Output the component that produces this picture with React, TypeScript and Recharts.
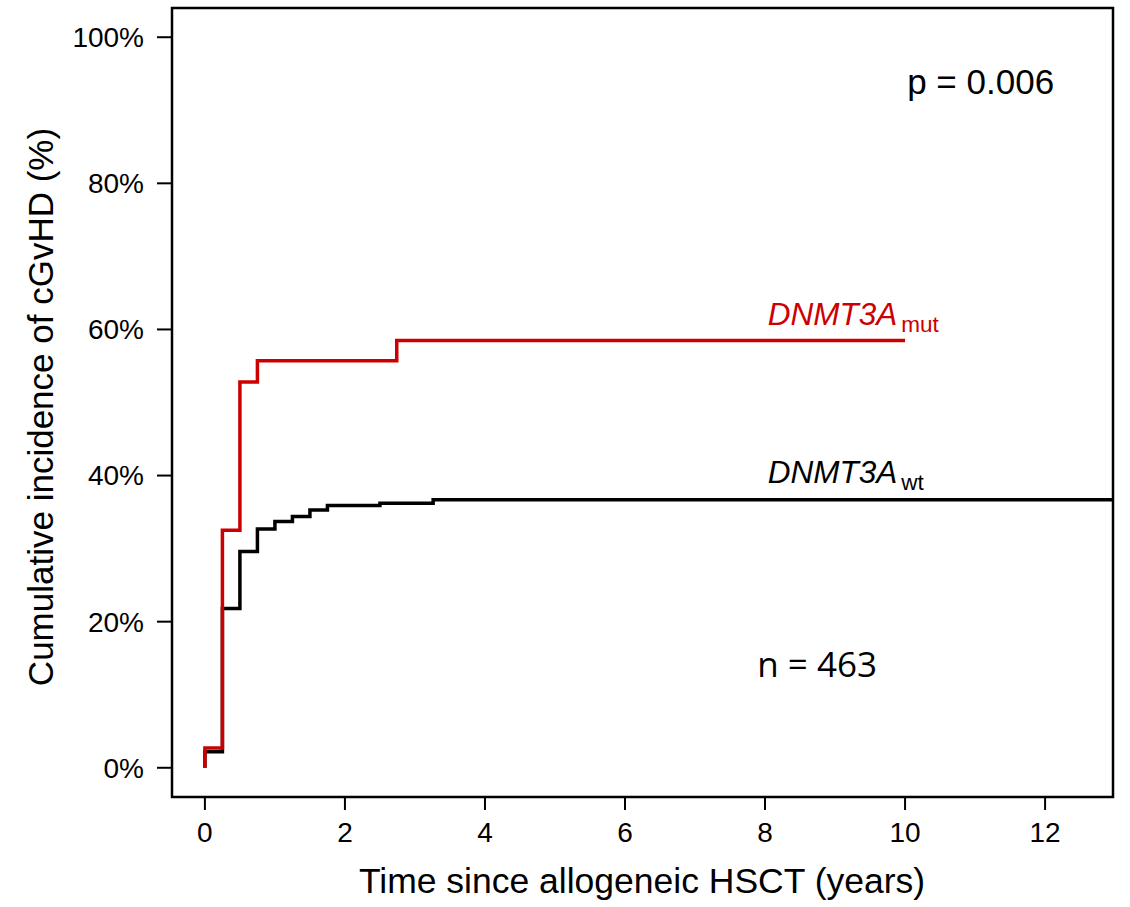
import React from 'react';
import { LineChart, Line, XAxis, YAxis, ReferenceArea, ReferenceDot } from 'recharts';

// step curves (years, cumulative incidence %)
const wtTimes = [0, 0, 0.25, 0.5, 0.75, 1.0, 1.25, 1.5, 1.75, 2.5, 3.26, 12.97];
const wtValues = [0, 2.2, 21.8, 29.6, 32.7, 33.7, 34.4, 35.3, 35.9, 36.2, 36.7, 36.7];
const mutTimes = [0, 0, 0.25, 0.5, 0.75, 2.74, 10.0];
const mutValues = [0, 2.7, 32.5, 52.8, 55.7, 58.5, 58.5];

const xTicks = [0, 2, 4, 6, 8, 10, 12];
const yTicks = [0, 20, 40, 60, 80, 100];

const X_DOMAIN: [number, number] = [-0.47, 12.97];
const Y_DOMAIN: [number, number] = [-4, 104];

const RED = '#cc0000';
const FONT = '"Liberation Sans", Arial, Helvetica, sans-serif';

const wtData = wtTimes.map((t, i) => ({ t, y: wtValues[i] }));
const mutData = mutTimes.map((t, i) => ({ t, y: mutValues[i] }));

const XTitle = (props: any) => {
  const vb = props.viewBox || {};
  return (
    <text x={642} y={vb.y + 96} textAnchor="middle" fontSize={35.5} fontFamily={FONT} fill="#000">
      Time since allogeneic HSCT (years)
    </text>
  );
};

const YTitle = () => (
  <text
    x={53}
    y={407}
    textAnchor="middle"
    fontSize={35}
    fontFamily={FONT}
    fill="#000"
    transform="rotate(-90, 53, 407)"
  >
    Cumulative incidence of cGvHD (%)
  </text>
);

const geneLabel = (sub: string, color: string) => (p: any) => (
  <text x={p.cx} y={p.cy} fontSize={31.5} fontFamily={FONT} fill={color}>
    <tspan fontStyle="italic">DNMT3A</tspan>
    <tspan fontSize={22.5} dx={4} dy={7}>{sub}</tspan>
  </text>
);

const plainLabel = (txt: string, size: number, family: string) => (p: any) => (
  <text x={p.cx} y={p.cy} fontSize={size} fontFamily={family} fill="#000">
    {txt}
  </text>
);

export default function App() {
  return (
    <div style={{ position: 'absolute', left: 0, top: 0, background: '#fff' }}>
      <LineChart width={1130} height={907} margin={{ top: 8, right: 17, bottom: 0, left: 0 }}>
        <XAxis
          type="number"
          dataKey="t"
          domain={X_DOMAIN}
          ticks={xTicks}
          allowDataOverflow
          height={110}
          axisLine={false}
          tickSize={13}
          tickMargin={12}
          tickLine={{ stroke: '#000', strokeWidth: 2 }}
          tick={{ fontSize: 28, fill: '#000', fontFamily: FONT }}
          label={<XTitle />}
        />
        <YAxis
          type="number"
          dataKey="y"
          domain={Y_DOMAIN}
          ticks={yTicks}
          allowDataOverflow
          width={172}
          axisLine={false}
          tickSize={15}
          tickMargin={13}
          tickLine={{ stroke: '#000', strokeWidth: 2 }}
          tick={{ fontSize: 28, fill: '#000', fontFamily: FONT }}
          tickFormatter={(v: number) => `${v}%`}
          label={<YTitle />}
        />
        <Line
          data={wtData}
          dataKey="y"
          type="stepAfter"
          stroke="#000"
          strokeWidth={3.5}
          dot={false}
          isAnimationActive={false}
        />
        <Line
          data={mutData}
          dataKey="y"
          type="stepAfter"
          stroke={RED}
          strokeWidth={3.5}
          dot={false}
          isAnimationActive={false}
        />
        <ReferenceArea
          x1={X_DOMAIN[0]}
          x2={X_DOMAIN[1]}
          y1={Y_DOMAIN[0]}
          y2={Y_DOMAIN[1]}
          fill="none"
          stroke="#000"
          strokeWidth={2.5}
          ifOverflow="visible"
        />
        <ReferenceDot x={8.04} y={60.6} shape={geneLabel('mut', RED)} />
        <ReferenceDot x={8.04} y={39.0} shape={geneLabel('wt', '#000')} />
        <ReferenceDot x={10.03} y={92.2} shape={plainLabel('p = 0.006', 35, FONT)} />
        <ReferenceDot x={7.89} y={12.4} shape={plainLabel('n = 463', 35, '"Open Sans", "Noto Sans", sans-serif')} />
      </LineChart>
    </div>
  );
}
